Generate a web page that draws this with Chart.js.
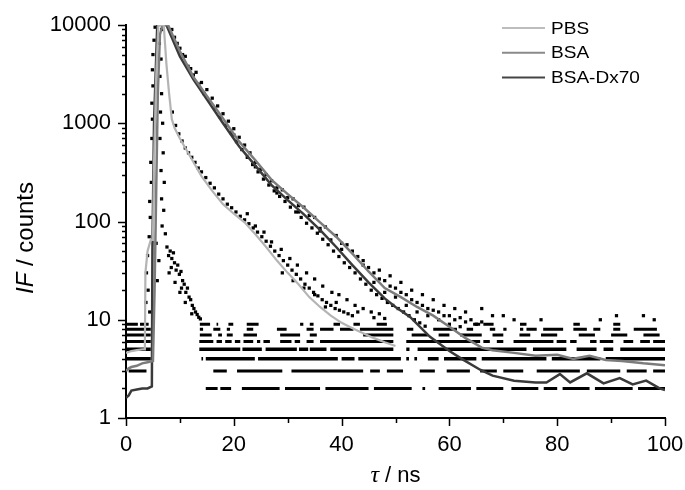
<!DOCTYPE html>
<html lang="en">
<head>
<meta charset="UTF-8">
<title>Fluorescence decay</title>
<style>
    body { margin: 0; background: #fff; }
    #wrap { width: 685px; height: 490px; }
</style>
<script src="https://cdn.jsdelivr.net/npm/chart.js"></script>
</head>
<body>
<div id="wrap"><canvas id="decay" width="685" height="490"></canvas></div>
<script>
// axis ticks
const xMajorTicks = [0, 20, 40, 60, 80, 100];
const xMinorTicks = [10, 30, 50, 70, 90];
const yDecades = [1, 10, 100, 1000, 10000];

// fitted / smoothed decay curves (time in ns, counts)
const pbsTime = [0, 1, 2, 3, 3.5, 3.6, 4.0, 4.6, 5.0, 5.2, 5.6, 6.0, 7.0, 7.5, 8.0, 8.5, 9, 10, 12, 14, 16, 18, 20, 22, 24, 26, 28, 30, 32, 34, 36, 38, 40, 42, 44, 46, 48, 50];
const pbsCounts = [4.6, 4.8, 4.9, 5.0, 5.0, 30, 50, 65, 65, 400, 3000, 10000, 10000, 4000, 2000, 1100, 900, 700, 450, 290, 205, 150, 120, 98, 74, 55, 40, 30, 23, 17, 13.5, 11, 9.3, 8.2, 7.3, 6.5, 5.9, 5.4];

const bsaTime = [0, 0.5, 1, 2, 3, 4, 5.0, 5.3, 5.6, 5.9, 6.3, 6.8, 7.8, 10, 12.5, 15, 18, 21, 24, 27, 30, 33, 36, 39, 42, 45, 48, 51, 54, 57, 60, 63, 66, 68, 72, 76, 80, 83, 86, 89, 92, 96, 100];
const bsaCounts = [3.0, 3.2, 3.3, 3.4, 3.6, 3.7, 3.8, 20, 200, 2000, 8000, 10000, 10000, 5400, 2960, 1900, 1120, 650, 420, 265, 190, 138, 98, 70, 47, 31, 21, 17, 13.5, 11, 8.5, 6.5, 5.2, 4.9, 4.6, 4.3, 4.4, 4.0, 4.3, 3.9, 3.8, 3.6, 3.45];

const dxTime = [0, 0.5, 1, 2, 3, 4, 4.8, 4.9, 5.2, 5.8, 7.5, 10, 12.5, 15, 18, 21, 24, 27, 30, 33, 36, 39, 42, 45, 48, 50, 52.7, 56.4, 60, 62.6, 65.7, 68, 72, 76, 78, 80.5, 82.4, 85.5, 88.6, 91.6, 94, 96.5, 99, 100];
const dxCounts = [1.6, 1.7, 1.9, 1.95, 2.0, 2.0, 2.1, 50, 1000, 10000, 10000, 4800, 2800, 1750, 1000, 580, 370, 235, 165, 118, 82, 55, 36, 24, 16.5, 13.5, 10.7, 6.7, 4.8, 3.9, 3.1, 2.7, 2.4, 2.3, 2.3, 2.8, 2.3, 2.85, 2.25, 2.55, 2.2, 2.4, 2.0, 1.93];

// raw photon counts (scattered dashes)
const rawCounts = [
    [3.8, 30], [4.0, 45], [4.3, 70], [4.5, 110], [4.4, 160], [4.7, 250], [4.6, 400], [4.8, 700], [4.9, 1100], [4.8, 1600],
    [5.0, 2400], [4.9, 3500], [5.0, 5000], [5.2, 7000], [5.4, 9500], [6.6, 9000], [6.2, 6500], [6.5, 4500], [6.3, 3000], [6.6, 2000],
    [6.4, 1300], [6.8, 1000], [6.3, 700], [6.9, 500], [6.5, 330], [7.1, 250], [6.6, 170], [7.0, 130], [6.7, 90], [7.3, 75],
    [4.1, 20], [3.7, 15], [4.4, 12], [5.6, 60], [6.1, 40], [5.8, 25],
    [7.6, 55], [7.9, 45], [8.2, 50], [8.5, 42], [8.8, 48], [8.4, 34], [9.0, 38], [9.3, 32], [9.6, 36], [9.9, 29],
    [10.2, 31], [10.5, 25], [10.3, 21], [10.8, 23], [11.1, 19], [11.4, 21], [11.7, 17], [12.0, 16], [12.3, 14], [12.6, 13],
    [12.9, 12], [13.2, 11.3], [13.5, 10.6], [13.8, 10.2], [9.1, 24], [10.0, 19], [11.0, 15], [8.0, 30], [12.2, 11.5],
    [8.6, 1300], [9.2, 950], [9.8, 780], [10.4, 660], [11, 560], [11.6, 500], [12.2, 450], [12.8, 400], [13.4, 350], [14, 320],
    [14.8, 280], [15.6, 245], [16.4, 220], [17.2, 190], [18, 170], [18.8, 150], [19.6, 138], [20.4, 125], [21.2, 113], [22, 104],
    [22.8, 95], [23.6, 86], [24.4, 78], [25.2, 70], [26, 63], [26.8, 56], [27.6, 50], [28.4, 45], [29.2, 40], [30, 36],
    [30.8, 32], [31.6, 29], [32.4, 26], [33.2, 23], [34, 21], [34.8, 19], [35.6, 17.5], [36.4, 16], [37.2, 15], [38, 14],
    [38.8, 13], [39.6, 12.5], [40.4, 12], [41.2, 11.5], [42, 11], [22.5, 120], [24, 90], [25.6, 78], [27, 62], [28.8, 52],
    [30.4, 42], [31.8, 36], [33.5, 30], [35, 26], [36.5, 22], [38.2, 19], [39.5, 18], [41, 16], [42.5, 14], [44, 13], [45.5, 12], [47, 11.5],
    [29, 30], [31, 25], [33, 21], [35, 18], [37, 13.5], [39, 15], [43, 12], [46, 10.5], [48, 10.3],
    [8.5, 9000], [9.5, 6500], [10.5, 5000], [11.5, 3800], [12.5, 3100], [13.5, 2500], [14.5, 2000], [15.5, 1700], [16.5, 1400], [17.5, 1150],
    [18.5, 950], [19.5, 800], [20.5, 650], [21.5, 540], [22.5, 450], [23.5, 380], [24.5, 320], [25.5, 270], [26.5, 235], [27.5, 205],
    [28.5, 180], [29.5, 160], [30.5, 140], [31.5, 125], [32.5, 110], [33.5, 96], [34.5, 86], [35.5, 76], [36.5, 66], [37.5, 58],
    [38.5, 50], [39.5, 44], [40.5, 38], [41.5, 34], [42.5, 30], [43.5, 26], [44.5, 23], [45.5, 20], [46.5, 18], [47.5, 16.5],
    [48.5, 15], [49.5, 14], [50.5, 13], [51.5, 12], [52.5, 11], [53.5, 10], [54.5, 9.3], [55.5, 8.6],
    [9, 7500], [11, 4800], [13, 3300], [15, 2200], [17, 1500], [19, 1050], [21, 720], [23, 500], [25, 340], [27, 260],
    [29, 210], [31, 170], [33, 140], [35, 110], [37, 88], [39, 72], [41, 58], [43, 44], [45, 34], [47, 26],
    [49, 22], [51, 19], [53, 16], [55, 14], [57, 12.5], [59, 11], [61, 10], [63, 9.5], [65, 9],
    [10, 5800], [12, 3600], [14, 2600], [16, 1800], [18, 1250], [20, 880], [22, 600], [24, 400], [26, 300], [28, 220],
    [30, 175], [32, 145], [34, 115], [36, 85], [38, 65], [40, 52], [20, 760], [24, 360], [28, 195], [32, 125], [36, 80],
    [40, 60], [42, 50], [44, 40], [46, 30], [48, 25], [50, 21], [52, 18], [54, 15], [56, 13], [58, 12], [60, 11], [62, 10.5], [64, 10], [66, 9.5],
    [46, 24], [48, 19], [50, 17], [52, 14], [54, 12], [56, 11], [58, 10], [60, 9], [62, 8.5],
    [44, 36], [47, 32], [49, 28], [51, 24], [53, 20], [55, 18], [57, 16], [59, 14], [61, 13], [63, 12],
    [66, 13], [68, 11], [70, 11], [72, 10], [77, 10], [88, 10], [91, 11], [96, 11], [98, 10]
];

// runs of identical low counts (integer levels), as [from, to] in ns
const band2 = [[14.8, 17], [17.5, 19.5], [21.5, 28.5], [29.5, 36], [37, 45], [46, 53], [55, 55.5], [58, 64], [65, 70], [71.5, 76.5], [77.5, 80], [81, 86], [87, 94], [95, 100]];
const band3 = [[0.5, 3.8], [16.2, 18.7], [20.6, 29], [30.7, 44], [45.3, 47.1], [48.4, 51.4], [54.5, 57.3], [59.5, 63.8], [65.7, 68.8], [70, 73.7], [76.2, 84.2], [85.5, 91.7], [92.9, 96.6], [97.8, 100]];
const band4 = [[0, 4.6], [14, 14.3], [14.8, 23.9], [24.5, 39.3], [40, 42.4], [43.1, 51], [52, 52.5], [53.5, 54], [56, 58], [59, 65], [66, 78], [79, 88], [89, 100]];
const band5 = [[0, 4.6], [13.6, 21.2], [21.6, 25.2], [25.9, 31.7], [32.1, 33.8], [34.1, 37.2], [37.9, 49.6], [52, 52.6], [54.1, 74.3], [75.5, 81.7], [83.6, 87.3], [88.6, 90.4], [91.7, 100]];
const band6 = [[0, 4.6], [13.6, 16.2], [16.8, 17.8], [18.4, 19.6], [20.2, 21.2], [21.8, 23.6], [24.3, 24.9], [25.5, 26.7], [28.6, 30.7], [31.3, 32.3], [33.5, 34.8], [36, 49.6], [52, 65.7], [66.3, 67.5], [68.8, 70], [71.9, 79.3], [79.9, 81.7], [82.4, 83.6], [86.1, 87.3], [87.9, 90.4], [92.3, 94.1], [95.4, 97.2], [97.8, 100]];
const band7 = [[0, 4.6], [13.7, 15.9], [17.1, 17.8], [18.7, 19.8], [21.8, 24.3], [28.6, 32.3], [34.1, 35.4], [44, 49.6], [53, 56], [58, 60], [62, 66], [68, 70], [73, 75], [77, 80], [84, 87], [90, 93], [96, 99]];
const band8 = [[0, 4.6], [13.7, 14.3], [16.2, 17.5], [18.7, 19.3], [22.4, 23.6], [28, 29.8], [33.5, 34.8], [36, 38.5], [39.7, 42.2], [43.4, 49.6], [52.1, 53.3], [57, 61.4], [63.2, 64.4], [67.5, 68.5], [70, 70.6], [73.1, 73.7], [74.3, 76.2], [77.4, 81.1], [83, 85.5], [86.7, 88], [90.4, 91.7], [94.2, 98.5]];
const band9 = [[0, 2.2], [2.6, 4.2], [13.7, 15.6], [16.8, 17.1], [19, 19.9], [22.4, 24.6], [32.3, 32.9], [34.1, 34.8], [38.5, 39.7], [42.2, 43.4], [46.5, 48.4], [64.4, 65.7], [66.3, 68.2], [73.1, 74.3], [83, 84.2], [90.4, 91.7]];
const bandLevels = [2, 3, 4, 5, 6, 7, 8, 9];
const bandRuns = [band2, band3, band4, band5, band6, band7, band8, band9];

const FONT = 'Arial, "Liberation Sans", sans-serif';

function toPoints(xs, ys) {
    return xs.map((x, i) => ({ x: x, y: ys[i] }));
}

function runsToPoints(runs, level) {
    var pts = [];
    runs.forEach(r => {
        pts.push({ x: r[0], y: level }, { x: r[1], y: level }, { x: r[1], y: null });
    });
    return pts;
}

function curve(label, xs, ys, color, width) {
    return {
        label: label, data: toPoints(xs, ys), borderColor: color, backgroundColor: color,
        borderWidth: width, pointRadius: 0, tension: 0, fill: false
    };
}

var datasets = [
    curve('PBS', pbsTime, pbsCounts, '#b4b4b4', 2.2),
    curve('BSA', bsaTime, bsaCounts, '#7c7c7c', 2.5),
    curve('BSA-Dx70', dxTime, dxCounts, '#3a3a3a', 2.5),
    {
        label: 'raw', data: rawCounts.map(p => ({ x: p[0], y: p[1] })), showLine: false,
        pointStyle: 'rect', pointRadius: 2.3, pointBorderWidth: 0,
        pointBackgroundColor: '#000', borderColor: '#000'
    }
];
bandLevels.forEach((lv, i) => {
    datasets.push({
        label: 'level' + lv, data: runsToPoints(bandRuns[i], lv), borderColor: '#000',
        borderWidth: (lv === 4 || lv === 5) ? 3.5 : 3, pointRadius: 0, spanGaps: false, tension: 0, borderCapStyle: 'butt'
    });
});

// tick marks, legend and axis titles
const decorations = {
    id: 'decorations',
    afterDraw(chart) {
        var ctx = chart.ctx, area = chart.chartArea;
        var xs = chart.scales.x, ys = chart.scales.y;
        ctx.save();
        ctx.strokeStyle = '#000';
        ctx.lineWidth = 1.5;
        ctx.beginPath();
        yDecades.forEach(d => {
            for (var m = 1; m <= 9; m++) {
                var v = d * m;
                if (v > 10000) break;
                var py = Math.round(ys.getPixelForValue(v)) + 0.5;
                var len = m === 1 ? 8 : 4;
                ctx.moveTo(area.left, py);
                ctx.lineTo(area.left - len, py);
            }
        });
        xMajorTicks.forEach(v => {
            var px = Math.round(xs.getPixelForValue(v)) + 0.5;
            ctx.moveTo(px, area.bottom);
            ctx.lineTo(px, area.bottom + 8);
        });
        xMinorTicks.forEach(v => {
            var px = Math.round(xs.getPixelForValue(v)) + 0.5;
            ctx.moveTo(px, area.bottom);
            ctx.lineTo(px, area.bottom + 5);
        });
        ctx.stroke();

        // legend (text in the original is slightly wide)
        var legendColors = ['#bdbdbd', '#8a8a8a', '#454545'];
        chart.data.datasets.slice(0, 3).forEach((ds, i) => {
            var y = 28 + i * 24.7;
            ctx.strokeStyle = legendColors[i];
            ctx.lineWidth = 2;
            ctx.beginPath();
            ctx.moveTo(502, y);
            ctx.lineTo(545, y);
            ctx.stroke();
            ctx.save();
            ctx.translate(551, y + 1);
            ctx.scale(1.12, 1);
            ctx.font = '17px ' + FONT;
            ctx.textBaseline = 'middle';
            ctx.fillStyle = '#000';
            ctx.fillText(ds.label, 0, 0);
            ctx.restore();
        });

        // y title: IF / counts
        ctx.save();
        ctx.fillStyle = '#000';
        ctx.translate(26, 238);
        ctx.rotate(-Math.PI / 2);
        var itFont = 'italic 24px ' + FONT, upFont = '24px ' + FONT;
        ctx.font = itFont;
        var w1 = ctx.measureText('IF').width;
        ctx.font = upFont;
        var w2 = ctx.measureText(' / counts').width;
        var sx = -(w1 + w2) / 2;
        ctx.textBaseline = 'middle';
        ctx.textAlign = 'left';
        ctx.font = itFont;
        ctx.fillText('IF', sx, 0);
        ctx.font = upFont;
        ctx.fillText(' / counts', sx + w1, 0);
        ctx.restore();

        // x title: tau / ns
        ctx.fillStyle = '#000';
        var tauFont = 'italic 24px "Liberation Serif", "Times New Roman", serif';
        var nsFont = '22px ' + FONT;
        ctx.font = tauFont;
        var t1 = ctx.measureText('\u03c4').width;
        ctx.font = nsFont;
        var t2 = ctx.measureText(' / ns').width;
        var cx = (area.left + area.right) / 2;
        var bx = cx - (t1 + t2) / 2;
        ctx.textBaseline = 'alphabetic';
        ctx.textAlign = 'left';
        ctx.font = tauFont;
        ctx.fillText('\u03c4', bx, 482);
        ctx.font = nsFont;
        ctx.fillText(' / ns', bx + t1, 482);
        ctx.restore();
    }
};

new Chart(document.getElementById('decay'), {
    type: 'line',
    data: { datasets: datasets },
    options: {
        responsive: false,
        animation: false,
        devicePixelRatio: 1,
        layout: { padding: { left: 0, right: 20, top: 25, bottom: 0 } },
        plugins: { legend: { display: false }, tooltip: { enabled: false } },
        scales: {
            x: {
                type: 'linear', min: 0, max: 100,
                grid: { display: true, drawOnChartArea: false, drawTicks: true, tickLength: 8, color: 'rgba(0,0,0,0)', tickColor: 'rgba(0,0,0,0)' },
                border: { display: true, color: '#000', width: 2 },
                ticks: { stepSize: 20, padding: 6, color: '#000', font: { family: FONT, size: 22 }, maxRotation: 0 },
                afterFit(scale) {
                    scale.height = 72;
                    scale.paddingLeft = 0;
                    scale.paddingRight = 0;
                }
            },
            y: {
                type: 'logarithmic', min: 1, max: 10000,
                grid: { display: true, drawOnChartArea: false, drawTicks: true, tickLength: 8, color: 'rgba(0,0,0,0)', tickColor: 'rgba(0,0,0,0)' },
                border: { display: true, color: '#000', width: 2 },
                ticks: {
                    autoSkip: false, padding: 7, color: '#000', font: { family: FONT, size: 22 },
                    callback: function (v) {
                        var l = Math.log10(v);
                        return Math.abs(l - Math.round(l)) < 1e-6 ? String(Math.round(v)) : '';
                    }
                },
                afterFit(scale) { scale.width = 126; }
            }
        }
    },
    plugins: [decorations]
});
</script>
</body>
</html>
